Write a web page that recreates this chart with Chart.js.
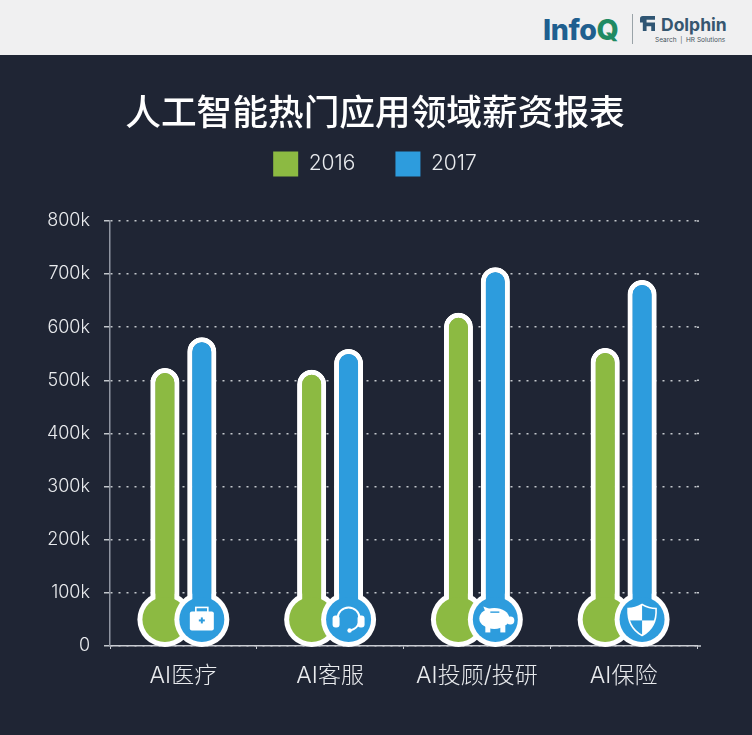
<!DOCTYPE html>
<html><head><meta charset="utf-8">
<style>
html,body{margin:0;padding:0;background:#1f2534;width:752px;height:735px;overflow:hidden}
#band{position:absolute;left:0;top:0;width:752px;height:55px;background:#f0f0f1}
#band span{position:absolute;white-space:nowrap;font-family:"Inter","Liberation Sans",sans-serif}
#divider{position:absolute;left:632px;top:14px;width:1px;height:30px;background:#9aa3a8}
#mark{position:absolute;left:640px;top:16px}
canvas{position:absolute;left:0;top:55px}
</style>
<script src="https://cdn.jsdelivr.net/npm/chart.js@4"></script>
</head><body>
<div id="band">
<span style="left:543px;top:12px;font-size:28.5px;font-weight:800;color:#1f5f8f;letter-spacing:-.4px">Info<span style="position:static;color:#1f8a62">Q</span></span>
<div id="divider"></div>
<svg id="mark" width="15" height="15" viewBox="0 0 16 16"><path d="M3 0h13v4H7v3h9v9h-4V11H7v5H3V7H0V3q0-3 3-3z" fill="#2f5573"/></svg>
<span style="left:661px;top:14px;font-size:17.5px;font-weight:700;color:#36566f">Dolphin</span>
<span style="left:655px;top:36px;font-size:6.5px;color:#44525c">Search &nbsp;|&nbsp; HR Solutions</span>
</div>
<canvas id="c" width="752" height="680"></canvas>
<script>
const titleText = '人工智能热门应用领域薪资报表';
const categories = ['AI医疗', 'AI客服', 'AI投顾/投研', 'AI保险'];
const seriesNames = ['2016', '2017'];
const values2016 = [523000, 520000, 627000, 561000];
const values2017 = [581000, 559000, 713000, 689000];
const bulbValue = 50000;
const icons = ['case', 'headset', 'pig', 'shield'];
const GREEN = '#8cba42', BLUE = '#2d9cdd', INK = '#e9ebee';
const GRID = 'rgba(225,228,232,.85)', AXIS = '#c9ccd2';
const FONT = '"Inter","Noto Sans CJK SC",sans-serif';
const CJK = '"Noto Sans CJK SC",sans-serif';

function drawIcon(ctx, kind, x, y) {
  ctx.save();
  ctx.translate(x, y);
  ctx.fillStyle = '#fff';
  ctx.strokeStyle = '#fff';
  if (kind === 'case') {
    ctx.lineWidth = 1.6;
    ctx.strokeRect(-6, -12, 12, 5);
    ctx.beginPath(); ctx.roundRect(-12, -8, 24, 19, 2); ctx.fill();
    ctx.fillStyle = BLUE;
    ctx.fillRect(-3, 0, 6, 2); ctx.fillRect(-1, -2, 2, 6);
  } else if (kind === 'headset') {
    ctx.lineWidth = 2;
    ctx.beginPath(); ctx.arc(0, -1, 11, Math.PI, 0); ctx.stroke();
    ctx.beginPath(); ctx.roundRect(-16, -4, 7, 12, 3); ctx.fill();
    ctx.beginPath(); ctx.roundRect(9, -4, 7, 12, 3); ctx.fill();
    ctx.beginPath(); ctx.arc(0, 0, 11, 0.35, 1.35); ctx.stroke();
    ctx.beginPath(); ctx.arc(1, 11, 2.2, 0, 7); ctx.fill();
  } else if (kind === 'pig') {
    ctx.beginPath(); ctx.ellipse(-1, -1, 15, 10.5, 0, 0, 7); ctx.fill();
    ctx.fillRect(-10, 6, 5, 7); ctx.fillRect(5, 6, 5, 7);
    ctx.beginPath(); ctx.moveTo(-10, -8); ctx.lineTo(-12, -13); ctx.lineTo(-4, -10); ctx.fill();
    ctx.beginPath(); ctx.ellipse(15, 1, 4, 4, 0, 0, 7); ctx.fill();
    ctx.fillStyle = BLUE; ctx.fillRect(-5, -8, 9, 1.4);
  } else {
    ctx.beginPath();
    ctx.moveTo(0, -15); ctx.quadraticCurveTo(7, -11, 14, -11);
    ctx.quadraticCurveTo(15, 8, 0, 16); ctx.quadraticCurveTo(-15, 8, -14, -11);
    ctx.quadraticCurveTo(-7, -11, 0, -15); ctx.closePath();
    ctx.lineWidth = 1.6; ctx.stroke();
    ctx.save(); ctx.clip();
    ctx.fillRect(-15, -16, 15, 17); ctx.fillRect(0, 1, 15, 16);
    ctx.restore();
  }
  ctx.restore();
}

const bulbs = {
  id: 'bulbs',
  beforeInit(chart) {
    const lg = chart.legend;
    if (lg) { const fit = lg.fit; lg.fit = function () { fit.call(this); this.height += 34.5; }; }
  },
  beforeDatasetsDraw(chart) {
    // the axis and the dotted grid run a little past the last category
    const { ctx, scales, chartArea } = chart;
    ctx.save();
    ctx.lineWidth = 1.5;
    scales.y.ticks.forEach(t => {
      const py = scales.y.getPixelForValue(t.value);
      ctx.strokeStyle = t.value === 0 ? AXIS : GRID;
      ctx.setLineDash(t.value === 0 ? [] : [2, 6]);
      ctx.beginPath(); ctx.moveTo(chartArea.right, py); ctx.lineTo(chartArea.right + 4, py); ctx.stroke();
    });
    ctx.restore();
  },
  afterDatasetsDraw(chart) {
    const { ctx, scales } = chart;
    const y = scales.y.getPixelForValue(bulbValue);
    ctx.save();
    chart.data.datasets.forEach((ds, di) => {
      const bars = chart.getDatasetMeta(di).data;
      ctx.fillStyle = '#fff';
      bars.forEach(b => { ctx.beginPath(); ctx.arc(b.x, y, 27.5, 0, 7); ctx.fill(); });
      bars.forEach(b => b.draw(ctx));
      ctx.fillStyle = ds.backgroundColor;
      bars.forEach((b, i) => {
        ctx.beginPath(); ctx.arc(b.x, y, 22.5, 0, 7); ctx.fill();
        if (di === 1) drawIcon(ctx, icons[i], b.x, y);
      });
    });
    ctx.restore();
  }
};

new Chart(document.getElementById('c'), {
  type: 'bar',
  plugins: [bulbs],
  data: {
    labels: categories,
    datasets: [
      { label: seriesNames[0], data: values2016, backgroundColor: GREEN },
      { label: seriesNames[1], data: values2017, backgroundColor: BLUE }
    ]
  },
  options: {
    responsive: false,
    animation: false,
    layout: { padding: { left: 45, right: 47, top: 35, bottom: 32.4 } },
    datasets: { bar: { base: bulbValue, borderColor: '#fff', borderWidth: 5, borderRadius: 15, borderSkipped: false,
      categoryPercentage: 0.503, barPercentage: 0.784 } },
    plugins: {
      title: { display: true, text: titleText, color: '#fff', font: { family: CJK, size: 35.7, weight: '500' }, padding: { top: 0, bottom: -21.4 } },
      legend: {
        position: 'top',
        labels: {
          color: INK, boxWidth: 25, boxHeight: 25, padding: 40,
          font: { family: FONT, size: 21, weight: '300' },
          generateLabels: c => c.data.datasets.map((d, i) => ({
            text: d.label, fillStyle: d.backgroundColor, strokeStyle: d.backgroundColor, lineWidth: 0, fontColor: INK, datasetIndex: i, hidden: false
          }))
        }
      },
      tooltip: { enabled: false }
    },
    scales: {
      x: {
        grid: { display: true, drawOnChartArea: false, drawTicks: true, tickLength: 3, color: AXIS },
        border: { display: true, color: AXIS, width: 1.5 },
        ticks: { color: INK, padding: 13, maxRotation: 0, font: { family: FONT, size: 23, weight: '300' } }
      },
      y: {
        min: 0, max: 800000,
        afterFit: s => { s.width = 65; },
        grid: { color: GRID, lineWidth: 1.5, tickLength: 6, tickColor: GRID, drawTicks: true },
        border: { display: true, color: '#8f95a1', width: 1.5, dash: [2, 6], dashOffset: 0 },
        ticks: {
          stepSize: 100000, color: INK, padding: 14,
          font: { family: FONT, size: 18, weight: '300' },
          callback: v => v === 0 ? '0' : (v / 1000) + 'k'
        }
      },
      rightGutter: {
        type: 'linear', position: 'right', display: true,
        afterFit: s => { s.width = 8; },
        grid: { display: false }, border: { display: false }, ticks: { display: false }
      }
    }
  }
});
</script>
</body></html>
